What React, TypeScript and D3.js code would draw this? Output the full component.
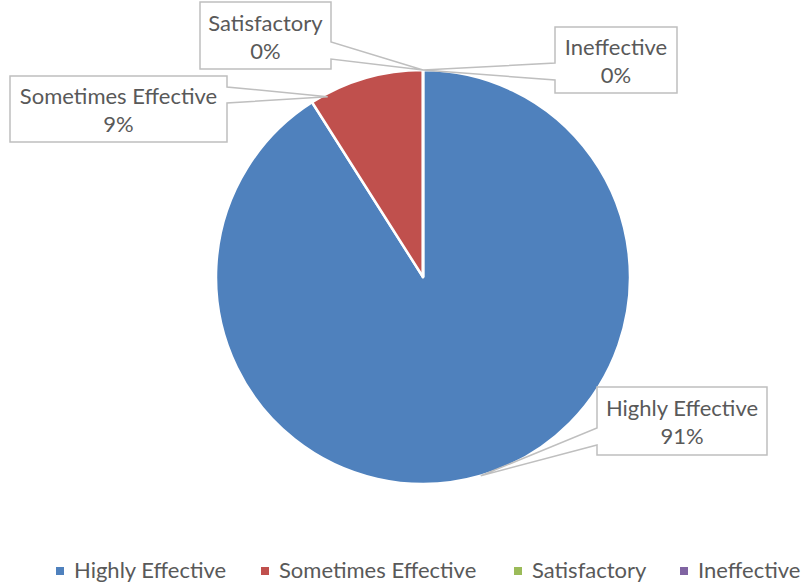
import React from 'react';
import * as d3 from 'd3';

const categories = ['Highly Effective', 'Sometimes Effective', 'Satisfactory', 'Ineffective'];
const values = [91, 9, 0, 0];
const percentLabels = ['91%', '9%', '0%', '0%'];
const colors = ['#4F81BD', '#C0504D', '#9BBB59', '#8064A2'];

// callout layout: box, side of the wedge, wedge attach range, anchor position along slice
const callouts = [
  { x: 597, y: 387, w: 170, h: 68, side: 'left', a1: 41, a2: 58, t: 0.5, r: 1 },
  { x: 10, y: 76, w: 217, h: 66, side: 'right', a1: 11, a2: 27, t: 0.14, r: 0.985 },
  { x: 200, y: 2, w: 131, h: 67, side: 'right', a1: 40, a2: 57, t: 0.5, r: 1 },
  { x: 555, y: 27, w: 122, h: 66, side: 'left', a1: 36, a2: 53, t: 0.5, r: 1 },
];
const legendX = [56, 261, 514, 680];

const W = 804;
const H = 588;
const cx = 423;
const cy = 277;
const radius = 207;
const font = 'Lato, Calibri, "Open Sans", sans-serif';
const fontSize = 22;

const App: React.FC = () => {
  const pie = d3.pie<number>().sort(null).startAngle(0).endAngle(2 * Math.PI);
  const arcs = pie(values);
  const arc = d3.arc<d3.PieArcDatum<number>>().innerRadius(0).outerRadius(radius);

  const anchor = (i: number) => {
    const a = arcs[i];
    const c = callouts[i];
    const ang = a.startAngle + c.t * (a.endAngle - a.startAngle);
    return [cx + radius * c.r * Math.sin(ang), cy - radius * c.r * Math.cos(ang)];
  };

  const calloutPath = (i: number) => {
    const c = callouts[i];
    const [ax, ay] = anchor(i);
    const x0 = c.x, y0 = c.y, x1 = c.x + c.w, y1 = c.y + c.h;
    if (c.side === 'right') {
      return `M${x0},${y0}H${x1}V${y0 + c.a1}L${ax},${ay}L${x1},${y0 + c.a2}V${y1}H${x0}Z`;
    }
    return `M${x0},${y0}H${x1}V${y1}H${x0}V${y0 + c.a2}L${ax},${ay}L${x0},${y0 + c.a1}Z`;
  };

  return (
    <svg width={W} height={H} style={{ position: 'absolute', left: 0, top: 0, background: '#fff' }}>
      <g transform={`translate(${cx},${cy})`}>
        {arcs.map((a, i) => (
          <path key={i} d={arc(a) || ''} fill={colors[i]} stroke="#fff" strokeWidth={2.5} strokeLinejoin="round" />
        ))}
      </g>
      {callouts.map((c, i) => (
        <g key={i}>
          <path d={calloutPath(i)} fill="#fff" stroke="#BFBFBF" strokeWidth={1.5} />
          <text x={c.x + c.w / 2} y={c.y + c.h / 2 - 5} textAnchor="middle" fontFamily={font} fontSize={fontSize} fill="#595959">
            {categories[i]}
          </text>
          <text x={c.x + c.w / 2} y={c.y + c.h / 2 + 23} textAnchor="middle" fontFamily={font} fontSize={fontSize} fill="#595959">
            {percentLabels[i]}
          </text>
        </g>
      ))}
      <g>
        {categories.map((name, i) => (
          <g key={name} transform={`translate(${legendX[i]},571)`}>
            <rect x={0} y={-4} width={8} height={8} fill={colors[i]} />
            <text x={18} y={7} fontFamily={font} fontSize={fontSize} fill="#595959">{name}</text>
          </g>
        ))}
      </g>
    </svg>
  );
};

export default App;
